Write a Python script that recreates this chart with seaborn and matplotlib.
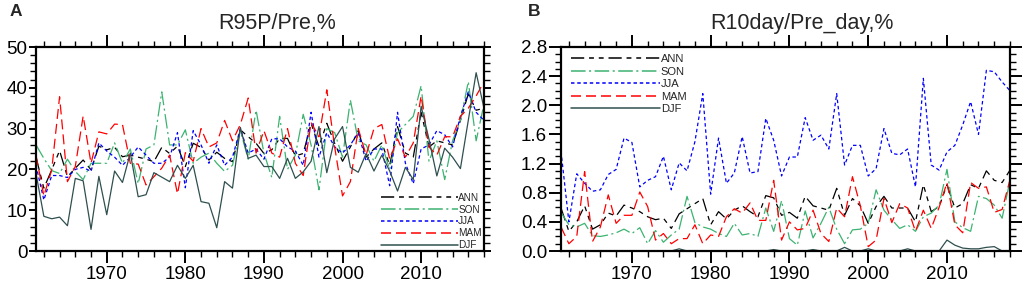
import matplotlib
matplotlib.use("Agg")
import matplotlib.pyplot as plt
import seaborn as sns
import pandas as pd
from matplotlib.ticker import MultipleLocator, FormatStrFormatter

sns.set_style("ticks")
plt.rcParams['font.family'] = ['Liberation Sans', 'DejaVu Sans']
plt.rcParams['lines.scale_dashes'] = False

years = list(range(1961, 2019))
series_names = ["ANN", "SON", "JJA", "MAM", "DJF"]

# ---- Panel A: R95P/Pre, %
a_ann = [23.0, 15.4, 19.9, 24.6, 18.2, 20.3, 22.3, 19.9, 25.7, 24.8,
         25.4, 23.1, 23.5, 23.0, 22.5, 21.9, 25.4, 23.9, 25.7, 20.7,
         26.4, 25.4, 22.3, 24.2, 22.7, 21.9, 29.7, 28.0, 26.4, 23.9,
         24.8, 27.6, 27.6, 23.3, 23.9, 31.3, 25.6, 31.3, 26.4, 22.0,
         25.5, 29.5, 23.0, 25.0, 26.5, 21.0, 30.5, 24.0, 23.0, 34.0,
         25.5, 27.0, 26.5, 26.0, 32.0, 38.5, 34.5, 35.0]
a_son = [26.0, 22.7, 19.7, 19.0, 22.5, 19.5, 17.5, 21.5, 21.5, 21.5,
         26.5, 21.5, 25.0, 16.5, 25.0, 26.0, 39.0, 26.0, 26.0, 29.7,
         21.5, 23.0, 24.0, 21.5, 19.5, 21.0, 29.5, 22.5, 34.5, 24.0,
         18.0, 33.0, 20.0, 23.5, 33.5, 26.0, 15.0, 30.0, 29.0, 23.0,
         37.0, 27.0, 26.0, 22.0, 26.0, 20.0, 29.0, 31.0, 33.0, 40.5,
         22.0, 27.0, 17.5, 27.0, 32.0, 41.5, 27.0, 36.0]
a_jja = [21.0, 12.5, 18.5, 18.5, 18.0, 20.0, 20.5, 19.5, 26.5, 24.5,
         23.0, 21.0, 23.0, 25.5, 23.5, 21.5, 21.5, 23.0, 29.0, 15.5,
         29.5, 26.0, 21.5, 26.0, 21.0, 23.0, 30.0, 24.0, 25.0, 22.5,
         27.5, 27.5, 25.5, 24.5, 21.0, 34.0, 23.0, 29.0, 25.5, 24.0,
         26.0, 29.0, 22.0, 25.0, 25.0, 16.0, 34.0, 21.5, 16.5, 25.0,
         26.0, 29.5, 28.5, 25.5, 33.0, 39.0, 34.0, 32.0]
a_mam = [23.5, 13.5, 19.9, 37.8, 17.0, 20.7, 33.1, 21.5, 29.2, 28.7,
         31.1, 31.0, 21.5, 21.3, 16.2, 18.2, 20.3, 23.5, 14.0, 24.1,
         22.0, 30.0, 25.5, 26.5, 32.0, 27.0, 31.0, 37.5, 24.0, 29.5,
         24.0, 23.0, 30.0, 21.5, 18.5, 31.5, 28.0, 39.5, 25.5, 13.5,
         17.0, 30.0, 23.5, 30.0, 31.0, 22.5, 27.5, 23.0, 26.5, 38.0,
         25.5, 23.5, 28.0, 28.0, 33.0, 35.0, 38.0, 41.5]
a_djf = [19.0, 8.5, 7.9, 8.3, 6.2, 17.8, 17.2, 5.3, 18.3, 8.9,
         19.6, 16.8, 24.0, 13.3, 13.8, 19.2, 18.1, 17.0, 21.0, 17.8,
         21.0, 12.1, 11.7, 5.7, 17.0, 15.4, 30.3, 22.7, 23.5, 20.7,
         20.7, 17.8, 22.7, 17.8, 19.4, 22.0, 30.5, 19.2, 27.5, 30.5,
         20.5, 19.3, 23.9, 19.6, 23.5, 19.6, 14.7, 20.5, 17.5, 35.5,
         27.4, 18.4, 25.2, 23.0, 20.2, 32.0, 43.7, 35.0]

# ---- Panel B: R10day/Pre_day, %
b_ann = [0.59, 0.27, 0.40, 0.62, 0.30, 0.36, 0.52, 0.48, 0.63, 0.59,
         0.54, 0.47, 0.43, 0.45, 0.31, 0.51, 0.58, 0.65, 0.72, 0.36,
         0.54, 0.44, 0.56, 0.62, 0.54, 0.47, 0.76, 0.73, 0.49, 0.53,
         0.45, 0.75, 0.62, 0.59, 0.56, 0.86, 0.49, 0.72, 0.62, 0.38,
         0.61, 0.75, 0.59, 0.59, 0.59, 0.40, 0.91, 0.54, 0.61, 0.91,
         0.59, 0.65, 0.91, 0.86, 1.10, 0.97, 0.94, 1.11]
b_son = [0.53, 0.36, 0.33, 0.38, 0.21, 0.20, 0.22, 0.25, 0.30, 0.24,
         0.32, 0.10, 0.28, 0.12, 0.22, 0.30, 0.75, 0.39, 0.33, 0.30,
         0.24, 0.20, 0.38, 0.22, 0.24, 0.20, 0.59, 0.27, 0.69, 0.17,
         0.08, 0.55, 0.18, 0.38, 0.60, 0.30, 0.10, 0.29, 0.30, 0.38,
         0.84, 0.56, 0.43, 0.31, 0.36, 0.27, 0.47, 0.52, 0.63, 1.12,
         0.40, 0.32, 0.27, 0.75, 0.72, 0.63, 0.45, 0.97]
b_jja = [1.37, 0.40, 1.06, 0.93, 0.82, 0.84, 1.05, 1.12, 1.55, 1.49,
         0.88, 0.97, 1.02, 1.30, 0.84, 1.21, 1.10, 1.50, 2.16, 0.78,
         1.55, 0.93, 1.07, 1.57, 1.07, 1.09, 1.82, 1.52, 1.03, 1.29,
         1.29, 1.83, 1.52, 1.59, 1.40, 2.16, 1.18, 1.45, 1.45, 1.03,
         1.13, 1.68, 1.34, 1.32, 1.40, 0.88, 2.37, 1.18, 1.11, 1.36,
         1.45, 1.73, 2.05, 1.60, 2.48, 2.46, 2.32, 2.20]
b_mam = [0.33, 0.10, 0.20, 1.09, 0.13, 0.33, 0.77, 0.38, 0.49, 0.49,
         0.81, 0.61, 0.15, 0.24, 0.10, 0.17, 0.17, 0.36, 0.10, 0.22,
         0.20, 0.47, 0.58, 0.52, 0.66, 0.42, 0.42, 0.97, 0.15, 0.40,
         0.29, 0.31, 0.56, 0.24, 0.13, 0.59, 0.47, 1.02, 0.62, 0.06,
         0.15, 0.72, 0.39, 0.65, 0.59, 0.27, 0.56, 0.31, 0.60, 0.94,
         0.36, 0.25, 0.94, 0.86, 0.88, 0.53, 0.57, 0.98]
b_djf = [0.0, 0.0, 0.0, 0.0, 0.0, 0.0, 0.0, 0.0, 0.0, 0.0,
         0.0, 0.0, 0.0, 0.0, 0.0, 0.03, 0.0, 0.0, 0.0, 0.0,
         0.0, 0.0, 0.0, 0.0, 0.0, 0.0, 0.0, 0.02, 0.0, 0.0,
         0.0, 0.0, 0.02, 0.0, 0.0, 0.0, 0.05, 0.0, 0.0, 0.03,
         0.0, 0.0, 0.0, 0.0, 0.03, 0.0, 0.0, 0.0, 0.0, 0.15,
         0.08, 0.04, 0.03, 0.03, 0.05, 0.06, 0.0, 0.0]

colors = {"ANN": "#000000", "SON": "#3cb371", "JJA": "#0000ff",
          "MAM": "#ff0000", "DJF": "#2f4f4f"}
dash_styles = {"ANN": (9.5, 3.5, 3.5, 3.5, 3.5, 3.5),
               "SON": (10.5, 2.5, 1.5, 2.5),
               "JJA": (2.5, 2.0),
               "MAM": (7.2, 3.6),
               "DJF": None}


def make_df(vals):
    rows = []
    for name, v in zip(series_names, vals):
        for yr, val in zip(years, v):
            rows.append({"year": yr, "value": val, "series": name})
    return pd.DataFrame(rows)


dfA = make_df([a_ann, a_son, a_jja, a_mam, a_djf])
dfB = make_df([b_ann, b_son, b_jja, b_mam, b_djf])

fig = plt.figure(figsize=(10.24, 2.82), dpi=100)
axA = fig.add_axes([36 / 1024, 31 / 282, 448 / 1024, 204 / 282])
axB = fig.add_axes([561 / 1024, 31 / 282, 449 / 1024, 204 / 282])


def draw(ax, df):
    for name in series_names:
        sub = df[df["series"] == name]
        sns.lineplot(data=sub, x="year", y="value", ax=ax, color=colors[name],
                     linewidth=0.9, label=name, legend=False)
        line = ax.lines[-1]
        if dash_styles[name] is not None:
            line.set_dashes(dash_styles[name])


draw(axA, dfA)
draw(axB, dfB)

for ax in (axA, axB):
    ax.set_xlim(1961, 2018)
    ax.xaxis.set_major_locator(MultipleLocator(10))
    ax.xaxis.set_minor_locator(MultipleLocator(2))
    ax.set_xlabel("")
    ax.set_ylabel("")
    for s in ax.spines.values():
        s.set_visible(True)
        s.set_linewidth(1.6)
        s.set_color("black")
    ax.tick_params(which="both", direction="out", top=True, right=True,
                   labelsize=13.5, colors="black")
    ax.tick_params(which="major", length=8.5, width=1.4)
    ax.tick_params(which="minor", length=4.3, width=1.0)
    ax.tick_params(axis="x", which="major", pad=2)

axA.set_ylim(0, 50)
axA.yaxis.set_major_locator(MultipleLocator(10))
axA.yaxis.set_minor_locator(MultipleLocator(2))
axA.tick_params(axis="y", which="major", left=True, length=5, pad=1)
axA.tick_params(axis="y", which="major", right=True)

axB.set_ylim(0, 2.8)
axB.yaxis.set_major_locator(MultipleLocator(0.4))
axB.yaxis.set_minor_locator(MultipleLocator(0.1))
axB.yaxis.set_major_formatter(FormatStrFormatter("%.1f"))
axB.tick_params(axis="y", which="major", pad=1.5)

axA.set_title("R95P/Pre,%", fontsize=15.5, x=0.538, y=1.113, va="center", pad=0)
axB.set_title("R10day/Pre_day,%", fontsize=15.5, x=0.537, y=1.113, va="center", pad=0)

legA = axA.legend(loc="lower left", bbox_to_anchor=(0.765, -0.005), frameon=False,
                  fontsize=7.2, handlelength=7.7, handletextpad=0.05,
                  labelspacing=0.18, borderpad=0.2, borderaxespad=0)
legB = axB.legend(loc="upper left", bbox_to_anchor=(0.018, 0.975), frameon=False,
                  fontsize=8.0, handlelength=8.0, handletextpad=0.05,
                  labelspacing=0.22, borderpad=0.2, borderaxespad=0)
for leg in (legA, legB):
    for h in leg.get_lines():
        h.set_linewidth(1.1)

fig.text(10 / 1024, 1 - 11 / 282, "A", ha="left", va="center",
         fontsize=12.5, fontweight="bold")
fig.text(528 / 1024, 1 - 11 / 282, "B", ha="left", va="center",
         fontsize=12.5, fontweight="bold")

fig.savefig("out.png", dpi=100)
